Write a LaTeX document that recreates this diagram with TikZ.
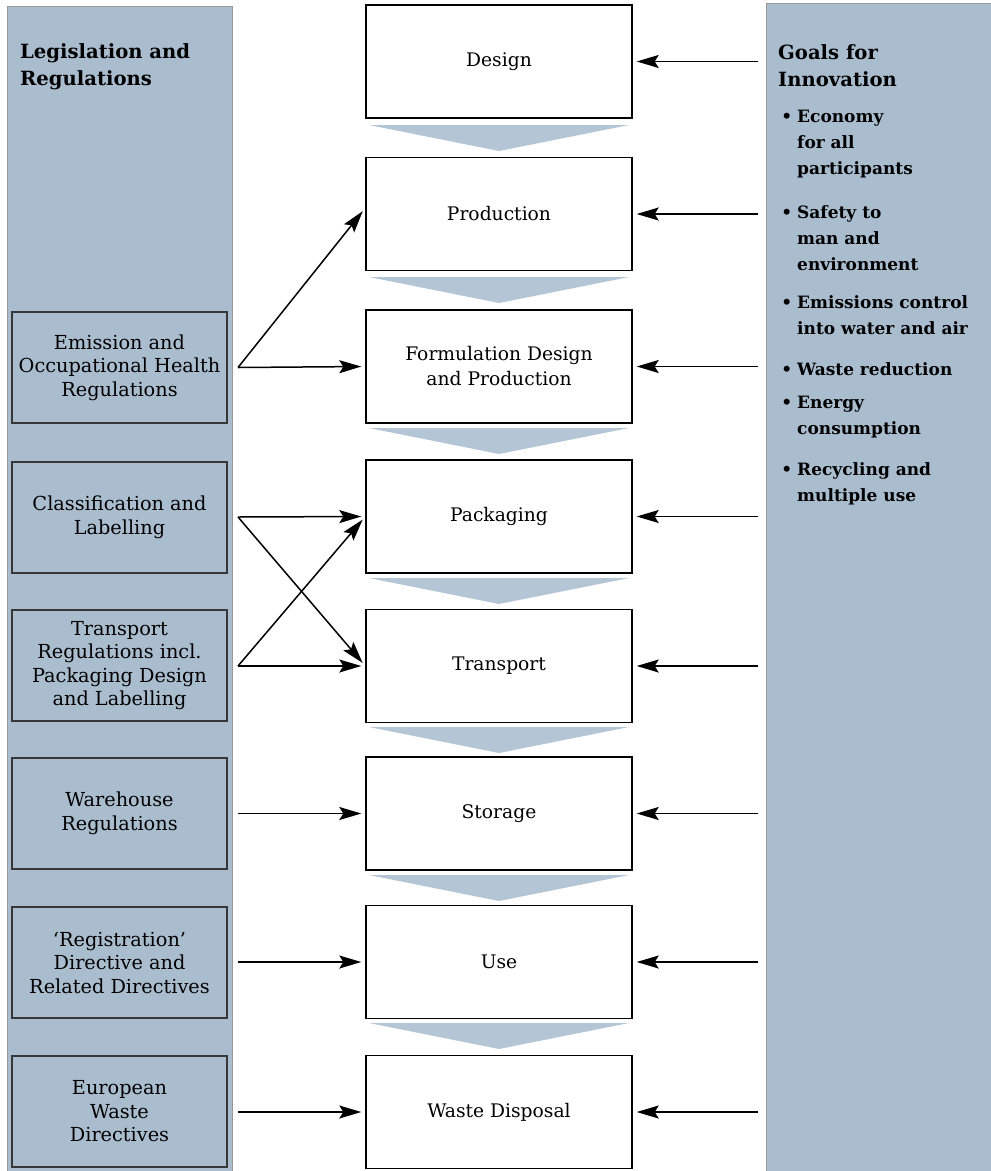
\documentclass[tikz,border=0pt]{standalone}
\usepackage{fontspec}
\setmainfont{DejaVu Serif}
\usepackage{tikz}
\usetikzlibrary{arrows.meta}
\definecolor{panelblue}{RGB}{170,189,206}
\definecolor{chevblue}{RGB}{180,198,214}
\definecolor{edgegray}{RGB}{55,55,55}

\begin{document}
\begin{tikzpicture}[x=1pt,y=-1pt,
    stage/.style={draw,line width=1.4pt,fill=white,minimum width=266pt,minimum height=113pt,
      inner sep=0pt,align=center,font=\fontsize{18.7}{25}\selectfont},
    rule/.style={draw=edgegray,line width=1.3pt,minimum width=215pt,minimum height=111pt,
      inner sep=0pt,align=center,font=\fontsize{19.3}{23.5}\selectfont},
    arr/.style={line width=1.5pt,-{Stealth[length=22pt,width=13pt,inset=4pt]},shorten >=4pt},
    head/.style={anchor=north west,inner sep=0pt,align=left,font=\bfseries\fontsize{19.6}{27}\selectfont},
    goal/.style={anchor=north west,inner sep=0pt,align=left,font=\bfseries\fontsize{17}{26}\selectfont}]
  \useasboundingbox (0,0) rectangle (991,1171);

  % side panels
  \filldraw[panelblue,draw=gray!80,line width=.6pt] (7,6) rectangle (232,1171);
  \filldraw[panelblue,draw=gray!80,line width=.6pt] (766,3) rectangle (991,1171);

  % flow chevrons
  \foreach \y in {125,277,428,578,727,875,1023}
    \fill[chevblue] (369,\y) -- (629,\y) -- (499,\y+26) -- cycle;

  % process chain
  \node[stage] (design)      at (499,61.5)  {Design};
  \node[stage] (production)  at (499,214)   {Production};
  \node[stage] (formulation) at (499,366.5) {Formulation Design\\and Production};
  \node[stage] (packaging)   at (499,516.5) {Packaging};
  \node[stage] (transport)   at (499,666)   {Transport};
  \node[stage] (storage)     at (499,813.5) {Storage};
  \node[stage] (use)         at (499,962)   {Use};
  \node[stage] (disposal)    at (499,1112)  {Waste Disposal};

  % legislation
  \node[head] (legis) at (20,43) {Legislation and\\Regulations};
  \node[rule] (emission)  at (119.5,367.5) {Emission and\\Occupational Health\\Regulations};
  \node[rule] (classif)   at (119.5,517.5) {Classification and\\Labelling};
  \node[rule] (transreg)  at (119.5,665.5) {Transport\\Regulations incl.\\Packaging Design\\and Labelling};
  \node[rule] (warehouse) at (119.5,813.5) {Warehouse\\Regulations};
  \node[rule] (registr)   at (119.5,962.5) {`Registration'\\Directive and\\Related Directives};
  \node[rule] (wastedir)  at (119.5,1111.5) {European\\Waste\\Directives};

  % goals
  \node[head] (goals) at (778,44) {Goals for\\Innovation};
  \foreach \t/\txt [count=\i] in {110/{Economy\\for all\\participants},
      205/{Safety to\\man and\\environment},
      295/{Emissions control\\into water and air},
      362/{Waste reduction},
      396/{Energy\\consumption},
      462/{Recycling and\\multiple use}}
    \node[goal] (goal\i) at (797,\t) {\llap{\textbullet\hspace{5pt}}\txt};

  % rules into the chain
  \coordinate (emi-out) at (238,367.5);
  \coordinate (cls-out) at (238,517);
  \coordinate (trs-out) at (238,666);
  \coordinate (wh-out)  at (238,813.5);
  \coordinate (reg-out) at (238,962);
  \coordinate (ew-out)  at (238,1112);
  \draw[arr] (emi-out) -- ([yshift=6pt]production.west);
  \draw[arr] (emi-out) -- (formulation.west);
  \draw[arr] (cls-out) -- (packaging.west);
  \draw[arr] (cls-out) -- (transport.west);
  \draw[arr] (trs-out) -- (transport.west);
  \draw[arr] (trs-out) -- (packaging.west);
  \draw[arr] (wh-out)  -- (storage.west);
  \draw[arr] (reg-out) -- (use.west);
  \draw[arr] (ew-out)  -- (disposal.west);

  % goals into the chain
  \foreach \s/\y in {design/61.5,production/214,formulation/366.5,packaging/516.5,
      transport/666,storage/813.5,use/962,disposal/1112} {
    \coordinate (in-\s) at (758,\y);
    \draw[arr] (in-\s) -- (\s.east);
  }
\end{tikzpicture}
\end{document}
